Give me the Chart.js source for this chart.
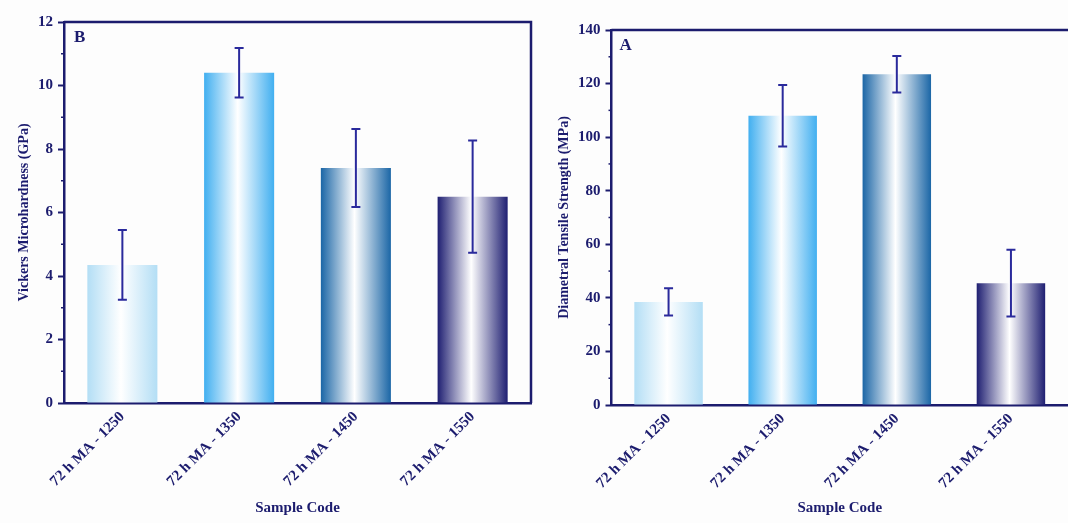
<!DOCTYPE html>
<html>
<head>
<meta charset="utf-8">
<script src="https://cdn.jsdelivr.net/npm/chart.js@4/dist/chart.umd.min.js"></script>
<style>
  html, body { margin: 0; padding: 0; background: #fdfdfd; }
  #wrap { position: relative; width: 1068px; height: 523px; }
  .panel { position: absolute; top: 0; height: 523px; }
  #panelB { left: 0; width: 540px; }
  #panelA { left: 540px; width: 528px; }
</style>
</head>
<body>
<div id="wrap">
  <div class="panel" id="panelB"><canvas id="hardnessChart"></canvas></div>
  <div class="panel" id="panelA"><canvas id="tensileChart"></canvas></div>
</div>
<script>
const sampleCodes = ['72 h MA - 1250', '72 h MA - 1350', '72 h MA - 1450', '72 h MA - 1550'];
const edgeColors = ['#b3def5', '#41aff0', '#1b66a6', '#1f1f72'];

const hardness = [4.35, 10.4, 7.4, 6.5];
const hardnessErr = [1.1, 0.78, 1.23, 1.77];
const hardnessTicks = [0, 2, 4, 6, 8, 10, 12];

const tensile = [38.5, 108, 123.5, 45.5];
const tensileErr = [5.1, 11.5, 6.8, 12.5];
const tensileTicks = [0, 20, 40, 60, 80, 100, 120, 140];

const NAVY = '#1c1c6e';
const ERR = '#2a2a9c';
const FONT = "'Liberation Serif', 'Times New Roman', serif";

function barFill(ctx) {
  const edge = edgeColors[ctx.dataIndex] || edgeColors[0];
  const chart = ctx.chart;
  if (ctx.type !== 'data' || !chart.chartArea) return edge;
  const xs = chart.scales.x;
  const cx = xs.getPixelForValue(ctx.dataIndex);
  const half = xs.width / sampleCodes.length * 0.6 / 2;
  const g = chart.ctx.createLinearGradient(cx - half, 0, cx + half, 0);
  g.addColorStop(0, edge);
  g.addColorStop(0.48, '#ffffff');
  g.addColorStop(1, edge);
  return g;
}

// error bars, minor ticks, frame and panel letter
const decorations = {
  id: 'decorations',
  afterDatasetsDraw(chart, args, opts) {
    const { ctx, chartArea: a, scales: { x, y } } = chart;
    const vals = chart.data.datasets[0].data;
    ctx.save();
    ctx.strokeStyle = ERR;
    ctx.lineWidth = 2;
    vals.forEach((v, i) => {
      const px = x.getPixelForValue(i);
      const top = y.getPixelForValue(v + opts.err[i]);
      const bot = y.getPixelForValue(v - opts.err[i]);
      ctx.beginPath();
      ctx.moveTo(px, top); ctx.lineTo(px, bot);
      ctx.moveTo(px - 4.5, top); ctx.lineTo(px + 4.5, top);
      ctx.moveTo(px - 4.5, bot); ctx.lineTo(px + 4.5, bot);
      ctx.stroke();
    });

    // minor ticks halfway between labelled ones
    ctx.strokeStyle = NAVY;
    ctx.lineWidth = 1.5;
    const t = opts.ticks;
    for (let i = 0; i < t.length - 1; i++) {
      const py = y.getPixelForValue((t[i] + t[i + 1]) / 2);
      ctx.beginPath();
      ctx.moveTo(a.left - 3, py); ctx.lineTo(a.left, py);
      ctx.stroke();
    }

    // box lines on top and right
    ctx.lineWidth = 2.5;
    ctx.beginPath();
    ctx.moveTo(a.left, a.top); ctx.lineTo(a.right, a.top);
    if (a.right < chart.width - 2) ctx.lineTo(a.right, a.bottom);
    ctx.stroke();

    ctx.fillStyle = NAVY;
    ctx.font = 'bold 17px ' + FONT;
    ctx.textBaseline = 'middle';
    ctx.fillText(opts.letter, a.left + opts.letterDx, a.top + opts.letterDy);
    ctx.restore();
  }
};

function makeChart(id, values, err, ticks, yTitle, letter, geo) {
  return new Chart(document.getElementById(id), {
    type: 'bar',
    data: {
      labels: sampleCodes,
      datasets: [{
        data: values,
        backgroundColor: barFill,
        borderWidth: 0,
        barPercentage: 0.6,
        categoryPercentage: 1,
      }],
    },
    options: {
      responsive: true,
      maintainAspectRatio: false,
      animation: false,
      layout: { padding: { top: geo.top, right: geo.right, bottom: 0, left: 0 } },
      plugins: {
        legend: { display: false },
        tooltip: { enabled: false },
        decorations: { err, ticks, letter, letterDx: geo.letterDx, letterDy: geo.letterDy },
      },
      scales: {
        x: {
          afterFit: s => { s.height = geo.xHeight; },
          grid: { display: false, drawTicks: false },
          border: { color: NAVY, width: 2.5 },
          ticks: {
            color: NAVY,
            font: { family: FONT, size: 15, weight: 'bold' },
            minRotation: 45,
            maxRotation: 45,
            padding: 5,
          },
          title: {
            display: true,
            text: 'Sample Code',
            color: NAVY,
            font: { family: FONT, size: 15, weight: 'bold' },
            padding: { top: 0, bottom: 6 },
          },
        },
        y: {
          min: ticks[0],
          max: ticks[ticks.length - 1],
          afterFit: s => { s.width = geo.yWidth; },
          afterBuildTicks: s => { s.ticks = ticks.map(v => ({ value: v })); },
          grid: { drawOnChartArea: false, drawTicks: true, tickLength: 6, tickColor: NAVY, tickWidth: 2 },
          border: { color: NAVY, width: 2.5 },
          ticks: {
            color: NAVY,
            font: { family: FONT, size: 15, weight: 'bold' },
            padding: 5,
          },
          title: {
            display: true,
            text: yTitle,
            color: NAVY,
            font: { family: FONT, size: 14, weight: 'bold' },
            padding: { top: 16, bottom: 0 },
          },
        },
      },
    },
    plugins: [decorations],
  });
}

makeChart('hardnessChart', hardness, hardnessErr, hardnessTicks,
  'Vickers Microhardness (GPa)', 'B',
  { top: 22, right: 9, xHeight: 120, yWidth: 64, letterDx: 10, letterDy: 16 });

makeChart('tensileChart', tensile, tensileErr, tensileTicks,
  'Diametral Tensile Strength (MPa)', 'A',
  { top: 30, right: 0, xHeight: 118, yWidth: 71.5, letterDx: 8, letterDy: 16 });
</script>
</body>
</html>
